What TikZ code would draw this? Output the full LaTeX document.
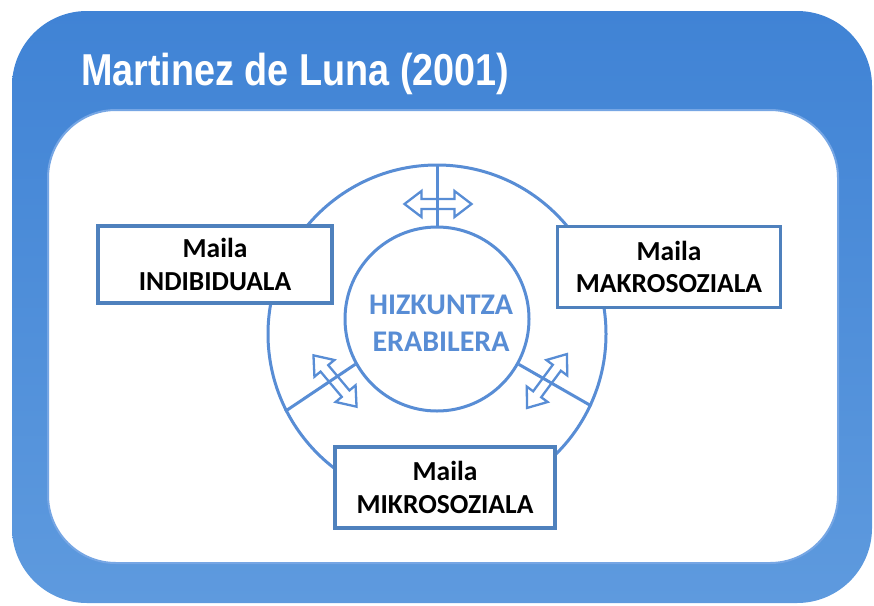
\documentclass[tikz,border=0pt]{standalone}
\usepackage{fontspec}
\setmainfont{Carlito}
\newfontfamily\titlefont[FakeStretch=0.845]{Liberation Sans}
\definecolor{frametop}{RGB}{64,131,213}
\definecolor{framebot}{RGB}{94,154,222}
\definecolor{ringblue}{RGB}{88,141,213}
\definecolor{boxblue}{RGB}{79,129,189}
\definecolor{lightedge}{RGB}{118,166,228}
\tikzset{
  ring/.style={circle, draw=ringblue, line width=3pt, inner sep=0pt},
  spoke/.style={draw=ringblue, line width=3pt},
  levelbox/.style={draw=boxblue, line width=3.5pt, fill=white, align=center, inner sep=0pt,
    font=\bfseries\fontsize{27.5}{32.5}\selectfont, text=black},
  arrowstyle/.style={draw=ringblue, line width=2.3pt, line join=miter},
}
\newcommand{\hollowarrow}[2]{%
  \begin{scope}[shift={#1},rotate=#2]
    \draw[arrowstyle] (-33.5,0) -- (-16.5,13) -- (-16.5,5) -- (16.5,5) -- (16.5,13) -- (33.5,0)
      -- (16.5,-13) -- (16.5,-5) -- (-16.5,-5) -- (-16.5,-13) -- cycle;
  \end{scope}}
\begin{document}
\begin{tikzpicture}[x=1pt,y=-1pt]
\useasboundingbox (0,0) rectangle (874,605);
% frame
\shade[top color=frametop, bottom color=framebot, rounded corners=75pt] (12,11) rectangle (872,603);
\filldraw[fill=white, draw=lightedge, line width=2pt, rounded corners=68pt] (48,110) rectangle (838,563);
\node[anchor=base west, text=white, inner sep=0pt,
  font=\titlefont\bfseries\fontsize{44.7}{50}\selectfont] (title) at (81,85) {Martinez de Luna (2001)};
% rings
\node[ring, minimum size=338pt] (outer) at (437,334) {};
\node[ring, minimum size=184pt] (inner) at (437,319) {};
% arrows
\hollowarrow{(438,204)}{0}
\hollowarrow{(335,381)}{-50}
\hollowarrow{(547,381)}{53.5}
% spokes
\draw[spoke] (inner.90) -- (outer.90);
\draw[spoke] (inner.209) -- (outer.207);
\draw[spoke] (inner.331) -- (outer.335);
% level boxes
\node[levelbox, minimum width=234pt, minimum height=77pt] (indiv) at (215,264.5) {Maila\\INDIBIDUALA};
\node[levelbox, minimum width=223pt, minimum height=81pt] (makro) at (669,267) {Maila\\MAKROSOZIALA};
\node[levelbox, minimum width=220pt, minimum height=81pt] (mikro) at (445,487.5) {Maila\\MIKROSOZIALA};
% centre text
\node[align=center, text=ringblue, inner sep=0pt, font=\bfseries\fontsize{30}{37}\selectfont] (usage) at (441,323) {HIZKUNTZA\\ERABILERA};
\end{tikzpicture}
\end{document}
